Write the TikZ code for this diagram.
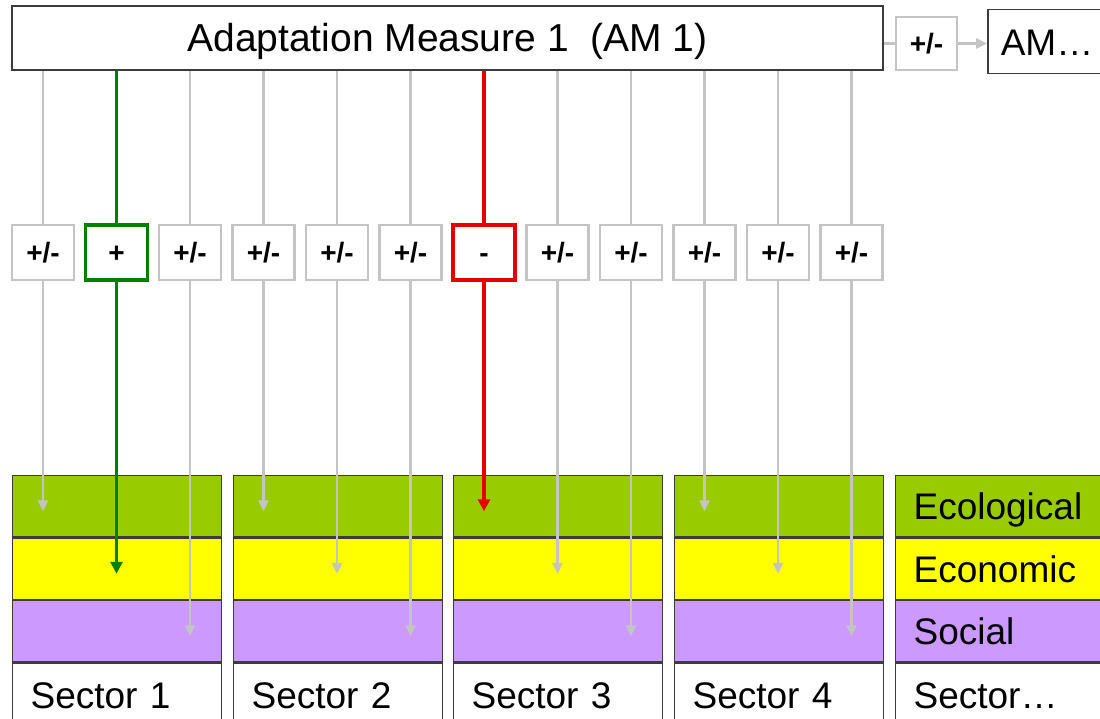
\documentclass[tikz,border=0pt]{standalone}
\usepackage{fontspec}
\setmainfont{Liberation Sans}
\usetikzlibrary{calc,positioning,arrows.meta}
\definecolor{ecogreen}{RGB}{153,204,0}
\definecolor{econyellow}{RGB}{255,255,0}
\definecolor{socpurple}{RGB}{204,153,255}
\definecolor{linegray}{RGB}{196,196,196}
\definecolor{posgreen}{RGB}{0,128,0}
\definecolor{negred}{RGB}{232,0,0}
\definecolor{framegray}{RGB}{60,60,60}
\tikzset{
	bigtext/.style={font=\fontsize{37}{44}\selectfont, text height=27pt, text depth=0pt},
	measurebox/.style={draw=framegray, line width=1.5pt, fill=white, bigtext},
	pmbox/.style={draw=linegray, line width=2.7pt, fill=white, minimum width=62pt, minimum height=55pt, inner sep=0pt, font=\bfseries\fontsize{28}{32}\selectfont, text height=21pt, text depth=0pt},
	band/.style={draw=framegray, line width=1.2pt, anchor=north west, minimum width=209pt, minimum height=61.3pt, text width=173pt, inner xsep=18pt, inner ysep=0pt, align=left, bigtext},
	labelband/.style={band, fill=white, minimum height=64pt},
	grayline/.style={draw=linegray, line width=2.7pt},
	grayarrow/.style={grayline, -{Triangle[length=11pt,width=10pt]}},
	posline/.style={draw=posgreen, line width=3.3pt},
	negline/.style={draw=negred, line width=3.3pt},
}

\begin{document}
\begin{tikzpicture}[x=1pt,y=-1pt]
	%%%%% START %%%%%
	\useasboundingbox (0,0) rectangle (1100,719);
	
	% measure and the next one
	\node[measurebox, font=\fontsize{39}{46}\selectfont, minimum width=871pt, minimum height=64pt] (am1) at (447.5,38) {Adaptation Measure 1\ \ (AM 1)};
	\node[pmbox, minimum width=61pt, minimum height=53pt] (pmnext) at (926.5,43.5) {+/-};
	\node[measurebox, anchor=north west, minimum height=64pt, text width=110pt, inner xsep=13pt, align=left] (amnext) at (987,9) {AM…};
	\draw[grayline] (pmnext.west -| am1.east) -- (pmnext.west);
	\draw[grayarrow] (pmnext.east) -- (pmnext.east -| amnext.west);
	
	% sectors
	\node[band, fill=ecogreen] (eco1) at (12,475) {};
	\node[band, fill=econyellow] (econ1) at (eco1.south west) {};
	\node[band, fill=socpurple] (soc1) at (econ1.south west) {};
	\node[labelband] (sec1) at (soc1.south west) {Sector 1};
	
	\node[band, fill=ecogreen] (eco2) at (233,475) {};
	\node[band, fill=econyellow] (econ2) at (eco2.south west) {};
	\node[band, fill=socpurple] (soc2) at (econ2.south west) {};
	\node[labelband] (sec2) at (soc2.south west) {Sector 2};
	
	\node[band, fill=ecogreen] (eco3) at (453,475) {};
	\node[band, fill=econyellow] (econ3) at (eco3.south west) {};
	\node[band, fill=socpurple] (soc3) at (econ3.south west) {};
	\node[labelband] (sec3) at (soc3.south west) {Sector 3};
	
	\node[band, fill=ecogreen] (eco4) at (674,475) {};
	\node[band, fill=econyellow] (econ4) at (eco4.south west) {};
	\node[band, fill=socpurple] (soc4) at (econ4.south west) {};
	\node[labelband] (sec4) at (soc4.south west) {Sector 4};
	
	\node[band, fill=ecogreen] (eco5) at (895,475) {Ecological};
	\node[band, fill=econyellow] (econ5) at (eco5.south west) {Economic};
	\node[band, fill=socpurple] (soc5) at (econ5.south west) {Social};
	\node[labelband] (sec5) at (soc5.south west) {Sector…};
	
	% effect boxes
	\node[pmbox] (c1) at (43,252.5) {+/-};
	\node[pmbox, draw=posgreen, line width=3.5pt] (c2) at (116.5,252.5) {+};
	\node[pmbox] (c3) at (190,252.5) {+/-};
	\node[pmbox] (c4) at (263.5,252.5) {+/-};
	\node[pmbox] (c5) at (337,252.5) {+/-};
	\node[pmbox] (c6) at (410.5,252.5) {+/-};
	\node[pmbox, draw=negred, line width=3.5pt] (c7) at (484,252.5) {-};
	\node[pmbox] (c8) at (557.5,252.5) {+/-};
	\node[pmbox] (c9) at (631,252.5) {+/-};
	\node[pmbox] (c10) at (704.5,252.5) {+/-};
	\node[pmbox] (c11) at (778,252.5) {+/-};
	\node[pmbox] (c12) at (851.5,252.5) {+/-};
	
	% from the measure to the boxes
	\draw[grayline] (c1 |- am1.south) -- (c1);
	\draw[posline] (c2 |- am1.south) -- (c2);
	\draw[grayline] (c3 |- am1.south) -- (c3);
	\draw[grayline] (c4 |- am1.south) -- (c4);
	\draw[grayline] (c5 |- am1.south) -- (c5);
	\draw[grayline] (c6 |- am1.south) -- (c6);
	\draw[negline] (c7 |- am1.south) -- (c7);
	\draw[grayline] (c8 |- am1.south) -- (c8);
	\draw[grayline] (c9 |- am1.south) -- (c9);
	\draw[grayline] (c10 |- am1.south) -- (c10);
	\draw[grayline] (c11 |- am1.south) -- (c11);
	\draw[grayline] (c12 |- am1.south) -- (c12);
	
	% from the boxes to the sectors
	\draw[grayarrow] (c1) -- ($(c1 |- eco1)+(0,5)$);
	\draw[posline, -{Triangle[length=12pt,width=12pt]}] (c2) -- ($(c2 |- econ1)+(0,5)$);
	\draw[grayarrow] (c3) -- ($(c3 |- soc1)+(0,5)$);
	\draw[grayarrow] (c4) -- ($(c4 |- eco2)+(0,5)$);
	\draw[grayarrow] (c5) -- ($(c5 |- econ2)+(0,5)$);
	\draw[grayarrow] (c6) -- ($(c6 |- soc2)+(0,5)$);
	\draw[negline, -{Triangle[length=12pt,width=12pt]}] (c7) -- ($(c7 |- eco3)+(0,5)$);
	\draw[grayarrow] (c8) -- ($(c8 |- econ3)+(0,5)$);
	\draw[grayarrow] (c9) -- ($(c9 |- soc3)+(0,5)$);
	\draw[grayarrow] (c10) -- ($(c10 |- eco4)+(0,5)$);
	\draw[grayarrow] (c11) -- ($(c11 |- econ4)+(0,5)$);
	\draw[grayarrow] (c12) -- ($(c12 |- soc4)+(0,5)$);
	
	%%%%% END %%%%%
\end{tikzpicture}
\end{document}
